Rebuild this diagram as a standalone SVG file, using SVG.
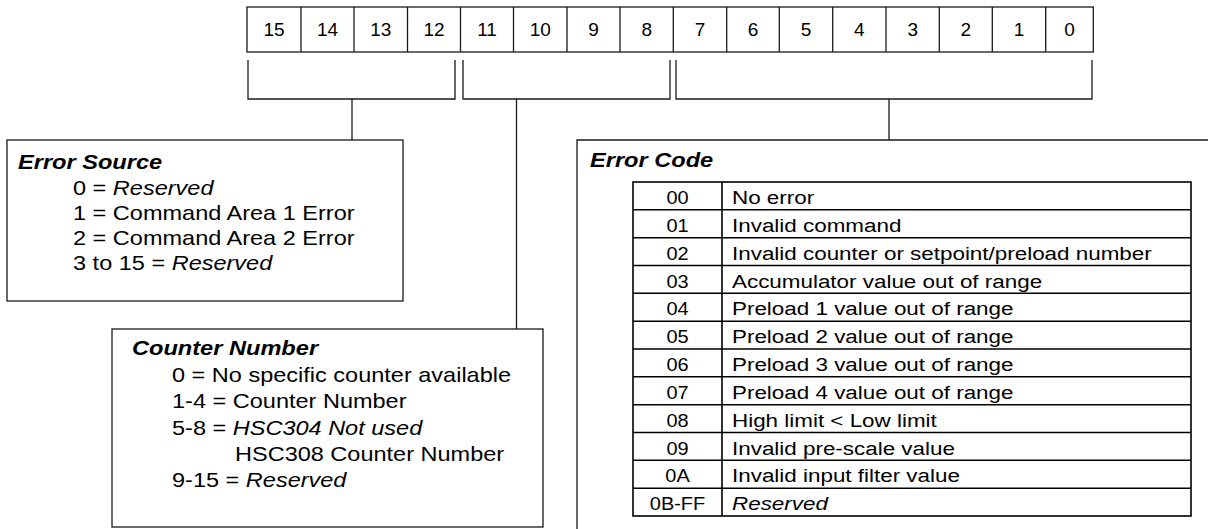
<svg xmlns="http://www.w3.org/2000/svg" width="1208" height="529" viewBox="0 0 1208 529">
<style>
  .ln{fill:none;stroke:#1a1a1a;stroke-width:1.3}
  .tb{fill:none;stroke:#000;stroke-width:1.6}
  .bit{font-family:"Liberation Sans",Arial,sans-serif;font-size:19px;fill:#000;text-anchor:middle}
  .ttl{font-family:"Liberation Sans",Arial,sans-serif;font-size:20px;font-weight:bold;font-style:italic;fill:#000}
  .bd{font-family:"Liberation Sans",Arial,sans-serif;font-size:21px;fill:#000}
  .cd{font-family:"Liberation Sans",Arial,sans-serif;font-size:19px;fill:#000;text-anchor:middle}
  .ds{font-family:"Liberation Sans",Arial,sans-serif;font-size:19px;fill:#000}
  .it{font-style:italic}
</style>
<rect width="1208" height="529" fill="#fff"/>
<g id="register">
  <rect class="ln" x="247" y="7" width="846.3" height="45"/>
  <path class="ln" d="M301 7V52M354 7V52M407.5 7V52M460.5 7V52M513.5 7V52M567 7V52M620 7V52M673.3 7V52M726.7 7V52M779.3 7V52M832.7 7V52M886 7V52M939.3 7V52M992.3 7V52M1045.7 7V52"/>
  <text class="bit" x="274" y="36">15</text>
  <text class="bit" x="327.5" y="36">14</text>
  <text class="bit" x="380.7" y="36">13</text>
  <text class="bit" x="434" y="36">12</text>
  <text class="bit" x="487" y="36">11</text>
  <text class="bit" x="540.2" y="36">10</text>
  <text class="bit" x="593.5" y="36">9</text>
  <text class="bit" x="646.7" y="36">8</text>
  <text class="bit" x="700" y="36">7</text>
  <text class="bit" x="753" y="36">6</text>
  <text class="bit" x="806" y="36">5</text>
  <text class="bit" x="859.3" y="36">4</text>
  <text class="bit" x="912.7" y="36">3</text>
  <text class="bit" x="965.8" y="36">2</text>
  <text class="bit" x="1019" y="36">1</text>
  <text class="bit" x="1069.5" y="36">0</text>
</g>
<g id="connectors">
  <path class="ln" d="M248 60V99H455V60M352 99V140"/>
  <path class="ln" d="M463 60V99H670V60M516.5 99V329"/>
  <path class="ln" d="M676 60V99H1092V60M889 99V140"/>
</g>
<g id="error-source">
  <rect class="ln" x="7" y="140" width="396" height="161"/>
  <text class="ttl" transform="translate(18,169) scale(1.18,1)">Error Source</text>
  <text class="bd" transform="translate(73,195) scale(1.12,1)">0 = <tspan class="it">Reserved</tspan></text>
  <text class="bd" transform="translate(73,220) scale(1.12,1)">1 = Command Area 1 Error</text>
  <text class="bd" transform="translate(73,245) scale(1.12,1)">2 = Command Area 2 Error</text>
  <text class="bd" transform="translate(73,270) scale(1.12,1)">3 to 15 = <tspan class="it">Reserved</tspan></text>
</g>
<g id="counter-number">
  <rect class="ln" x="112" y="329" width="431" height="198"/>
  <text class="ttl" transform="translate(132,355) scale(1.18,1)">Counter Number</text>
  <text class="bd" transform="translate(172,381.5) scale(1.12,1)">0 = No specific counter available</text>
  <text class="bd" transform="translate(172,408) scale(1.12,1)">1-4 = Counter Number</text>
  <text class="bd" transform="translate(172,434.5) scale(1.12,1)">5-8 = <tspan class="it">HSC304 Not used</tspan></text>
  <text class="bd" transform="translate(235,461) scale(1.12,1)">HSC308 Counter Number</text>
  <text class="bd" transform="translate(172,487) scale(1.12,1)">9-15 = <tspan class="it">Reserved</tspan></text>
</g>
<g id="error-code">
  <path class="ln" d="M577 529V140H1208"/>
  <text class="ttl" transform="translate(590,167) scale(1.18,1)">Error Code</text>
  <rect class="tb" x="633" y="182" width="558" height="334"/>
  <path class="tb" d="M722 182V516M633 209.8H1191M633 237.7H1191M633 265.5H1191M633 293.3H1191M633 321.2H1191M633 349H1191M633 376.8H1191M633 404.7H1191M633 432.5H1191M633 460.3H1191M633 488.2H1191"/>
  <text class="cd" transform="translate(677.5,204) scale(1.05,1)">00</text>
  <text class="cd" transform="translate(677.5,231.8) scale(1.05,1)">01</text>
  <text class="cd" transform="translate(677.5,259.7) scale(1.05,1)">02</text>
  <text class="cd" transform="translate(677.5,287.5) scale(1.05,1)">03</text>
  <text class="cd" transform="translate(677.5,315.3) scale(1.05,1)">04</text>
  <text class="cd" transform="translate(677.5,343.2) scale(1.05,1)">05</text>
  <text class="cd" transform="translate(677.5,371) scale(1.05,1)">06</text>
  <text class="cd" transform="translate(677.5,398.8) scale(1.05,1)">07</text>
  <text class="cd" transform="translate(677.5,426.7) scale(1.05,1)">08</text>
  <text class="cd" transform="translate(677.5,454.5) scale(1.05,1)">09</text>
  <text class="cd" transform="translate(677.5,482.3) scale(1.05,1)">0A</text>
  <text class="cd" transform="translate(677.5,510.2) scale(1.05,1)">0B-FF</text>
  <text class="ds" transform="translate(732,204) scale(1.18,1)">No error</text>
  <text class="ds" transform="translate(732,231.8) scale(1.18,1)">Invalid command</text>
  <text class="ds" transform="translate(732,259.7) scale(1.18,1)">Invalid counter or setpoint/preload number</text>
  <text class="ds" transform="translate(732,287.5) scale(1.18,1)">Accumulator value out of range</text>
  <text class="ds" transform="translate(732,315.3) scale(1.18,1)">Preload 1 value out of range</text>
  <text class="ds" transform="translate(732,343.2) scale(1.18,1)">Preload 2 value out of range</text>
  <text class="ds" transform="translate(732,371) scale(1.18,1)">Preload 3 value out of range</text>
  <text class="ds" transform="translate(732,398.8) scale(1.18,1)">Preload 4 value out of range</text>
  <text class="ds" transform="translate(732,426.7) scale(1.18,1)">High limit &lt; Low limit</text>
  <text class="ds" transform="translate(732,454.5) scale(1.18,1)">Invalid pre-scale value</text>
  <text class="ds" transform="translate(732,482.3) scale(1.18,1)">Invalid input filter value</text>
  <text class="ds it" transform="translate(732,510.2) scale(1.18,1)">Reserved</text>
</g>
</svg>
